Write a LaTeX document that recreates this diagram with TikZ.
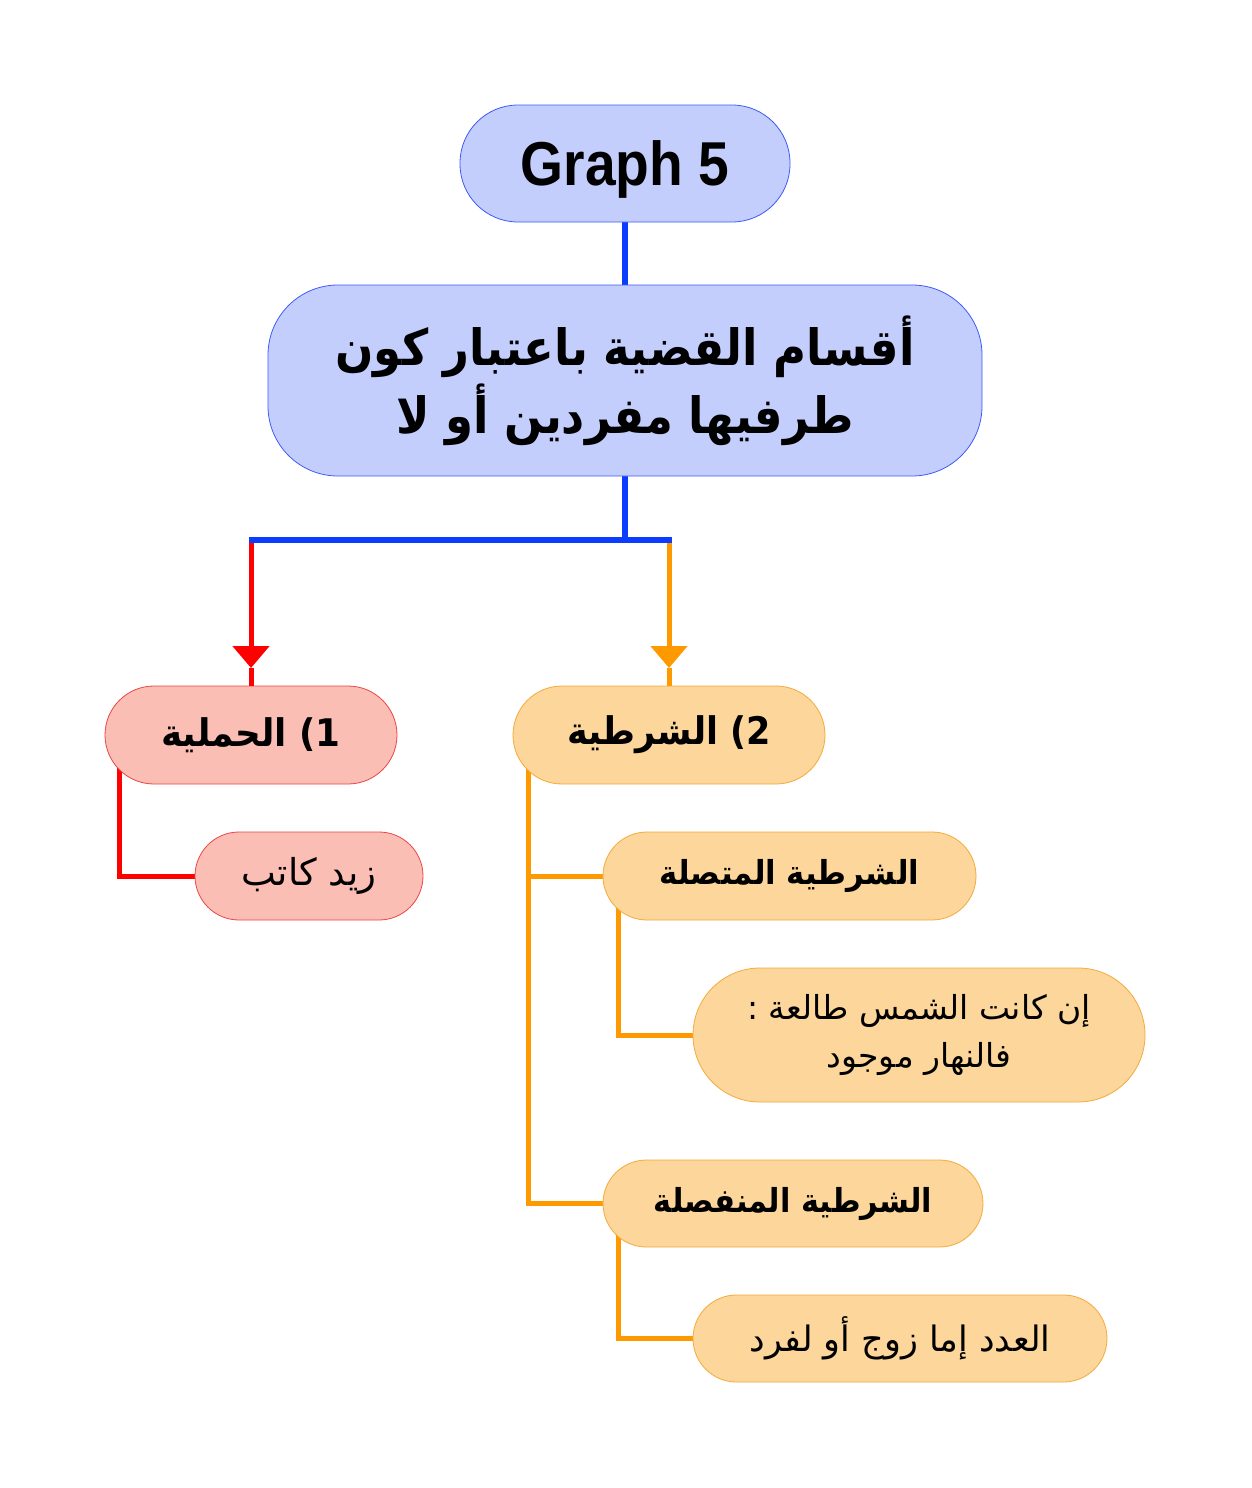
\documentclass[tikz,border=0pt]{standalone}
\usepackage{fontspec}
\setmainfont{Liberation Sans}
\newfontfamily\arabicfont[Script=Arabic]{DejaVu Sans}
\TeXXeTstate=1
\usetikzlibrary{arrows.meta,backgrounds}
\definecolor{gfill}{RGB}{196,206,252}
\definecolor{gborder}{RGB}{60,90,250}
\definecolor{blline}{RGB}{12,60,255}
\definecolor{rfill}{RGB}{251,190,180}
\definecolor{rborder}{RGB}{235,70,70}
\definecolor{rline}{RGB}{255,0,0}
\definecolor{ofill}{RGB}{252,214,154}
\definecolor{oborder}{RGB}{245,170,60}
\definecolor{oline}{RGB}{255,153,0}
\newcommand{\sqz}[2]{\scalebox{#1}[1]{#2}}
\begin{document}
\begin{tikzpicture}[x=1pt,y=-1pt,
  pill/.style={rectangle, inner sep=0pt, align=center, line width=0.8pt},
  bluebox/.style={pill, fill=gfill, draw=gborder},
  redbox/.style={pill, fill=rfill, draw=rborder},
  orbox/.style={pill, fill=ofill, draw=oborder},
  boldar/.style={font=\arabicfont\bfseries\fontsize{#1}{50}\selectfont},
  regar/.style={font=\arabicfont\fontsize{#1}{48}\selectfont},
  bl/.style={draw=blline, line width=6pt},
  rl/.style={draw=rline, line width=5pt},
  ol/.style={draw=oline, line width=5pt},
  tipstyle/.style={-{Triangle[width=36pt,length=22pt]}}
]
\useasboundingbox (0,0) rectangle (1251,1488);

\node[bluebox, rounded corners=58pt, minimum width=330pt, minimum height=117pt, text depth=0pt,
  font=\bfseries\fontsize{62}{70}\selectfont] (g) at (625,163.5) {\sqz{0.89}{Graph 5}};
\node[bluebox, rounded corners=70pt, minimum width=714pt, minimum height=191pt,
  font=\arabicfont\bfseries\fontsize{50}{68}\selectfont] (m) at (625,380.5)
  {\sqz{0.9}{\beginR أقسام القضية باعتبار كون\endR}\\\sqz{0.9}{\beginR طرفيها مفردين أو لا\endR}};

\node[redbox, rounded corners=49pt, minimum width=292pt, minimum height=98pt, boldar=38] (h1) at (251,735)
  {\sqz{0.94}{\beginR 1\kern0pt) الحملية\endR}};
\node[redbox, rounded corners=44pt, minimum width=228pt, minimum height=88pt, regar=37] (z) at (309,876)
  {\beginR زيد كاتب\endR};

\node[orbox, rounded corners=49pt, minimum width=312pt, minimum height=98pt, boldar=38] (h2) at (669,735)
  {\sqz{0.92}{\beginR 2\kern0pt) الشرطية\endR}};
\node[orbox, rounded corners=44pt, minimum width=373pt, minimum height=88pt, boldar=33] (c1) at (789.5,876)
  {\sqz{0.93}{\beginR الشرطية المتصلة\endR}};
\node[orbox, rounded corners=67pt, minimum width=452pt, minimum height=134pt, regar=33] (e1) at (919,1035)
  {\beginR إن كانت الشمس طالعة :\endR\\\beginR فالنهار موجود\endR};
\node[orbox, rounded corners=43.5pt, minimum width=380pt, minimum height=87pt, boldar=33] (c2) at (793,1203.5)
  {\sqz{0.92}{\beginR الشرطية المنفصلة\endR}};
\node[orbox, rounded corners=43.5pt, minimum width=414pt, minimum height=87pt, regar=35] (e2) at (900,1338.5)
  {\beginR العدد إما زوج أو لفرد\endR};

\coordinate (jB) at (625,540);
\coordinate (jL) at (251,540);
\coordinate (jR) at (669,540);
\coordinate (aL) at (251,668);
\coordinate (aR) at (669,668);
\coordinate (rL) at (119,740);
\coordinate (oL) at (528,740);
\coordinate (oC1) at (618,880);
\coordinate (oC2) at (618,1206);

\begin{scope}[on background layer]
  \fill[white] (0,0) rectangle (1251,1488);
  \draw[bl] (g.south) -- (m.north);
  \draw[bl] (m.south) -- (jB);
  \draw[bl] ([xshift=-2.5pt]jL) -- ([xshift=2.5pt]jR);
  \draw[rl] (rL) |- (z.west);
  \draw[ol] (oL) |- (c2.west);
  \draw[ol] (oL |- c1.west) -- (c1.west);
  \draw[ol] (oC1) |- (e1.west);
  \draw[ol] (oC2) |- (e2.west);
\end{scope}
\draw[rl, tipstyle] ([yshift=-3pt]jL) -- (aL);
\draw[rl] (aL) -- (h1.north);
\draw[ol, tipstyle] ([yshift=-3pt]jR) -- (aR);
\draw[ol] (aR) -- (h2.north);
\end{tikzpicture}
\end{document}
